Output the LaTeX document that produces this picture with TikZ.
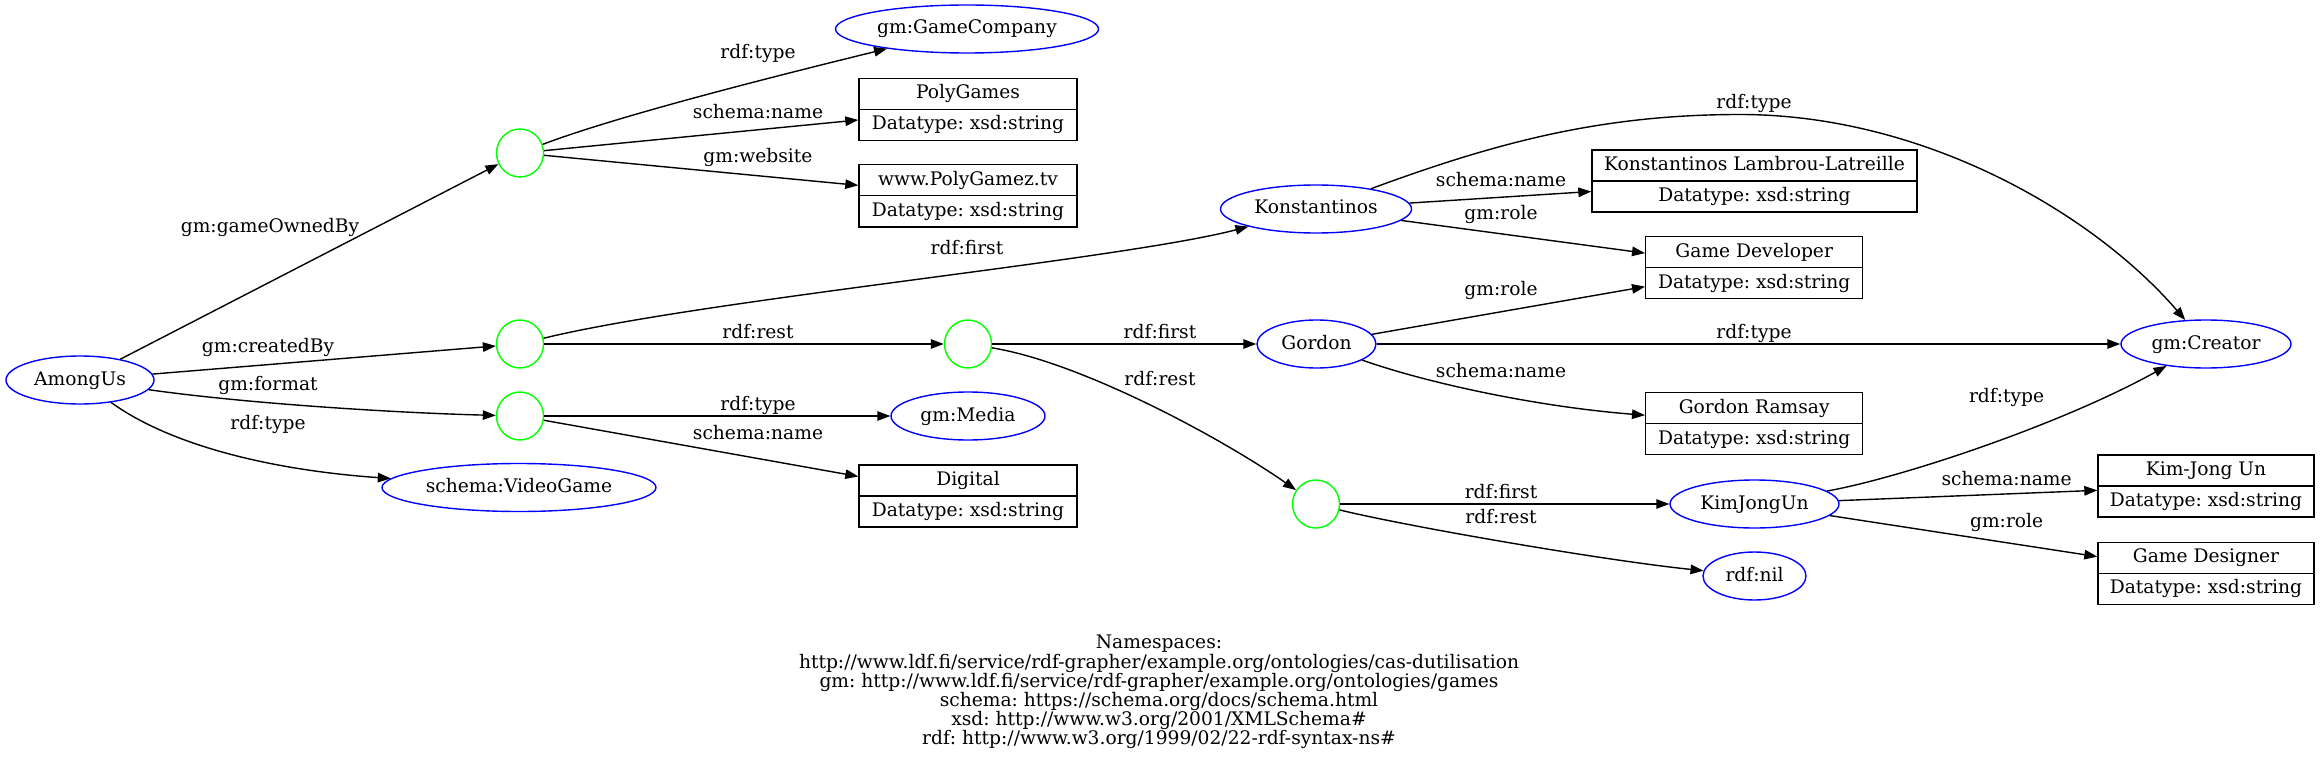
\documentclass[tikz,border=0pt]{standalone}
\usepackage{fontspec}
\setmainfont{DejaVu Serif}
\frenchspacing
\usetikzlibrary{shapes.geometric,arrows.meta}
\definecolor{gvblue}{RGB}{0,0,255}
\definecolor{gvgreen}{RGB}{0,255,0}
\tikzset{
  res/.style={ellipse, draw=gvblue, line width=1.4pt, inner sep=0pt, minimum height=48pt, text height=13pt, text depth=3pt},
  bnode/.style={ellipse, draw=gvgreen, line width=1.4pt, inner sep=0pt, minimum width=47pt, minimum height=48pt},
  recframe/.style={draw, line width=1.4pt, rectangle, minimum height=62pt, inner sep=0pt},
  recline/.style={line width=1.4pt},
  txt/.style={inner sep=0pt, text height=13pt, text depth=3pt},
  lbl/.style={inner sep=0pt, text height=13pt, text depth=3pt},
  nsline/.style={inner sep=0pt, anchor=base},
  arr/.style={line width=1.4pt, -{Triangle[length=13pt,width=9.5pt]}},
}
\newcommand{\recbox}[6]{%
  \node[recframe, minimum width=#4] (#1) at (#2,#3) {};
  \draw[recline] (#1.west) -- (#1.east);
  \node[txt] (#1-t) at (#2,#3-15.5) {#5};
  \node[txt] (#1-b) at (#2,#3+15.5) {#6};
}
\begin{document}
\begin{tikzpicture}[x=1pt,y=-1pt,font=\fontsize{18.67}{19.2}\selectfont\frenchspacing]
\useasboundingbox (0,0) rectangle (2320,762);
% resource nodes
\node[res, minimum width=148pt] (among) at (80,380) {AmongUs};
\node[bnode] (b1) at (520,153) {};
\node[bnode] (b2) at (520,344) {};
\node[bnode] (b3) at (520,416) {};
\node[res, minimum width=263pt] (gamecomp) at (967,29) {gm:GameCompany};
\node[res, minimum width=154pt] (media) at (968,416) {gm:Media};
\node[res, minimum width=274pt] (videogame) at (519,487.5) {schema:VideoGame};
\node[bnode] (b4) at (968,344) {};
\node[res, minimum width=191pt] (konst) at (1316,209) {Konstantinos};
\node[res, minimum width=119pt] (gordon) at (1316.5,344) {Gordon};
\node[res, minimum width=170pt] (creator) at (2206,344) {gm:Creator};
\node[bnode] (b5) at (1316,504) {};
\node[res, minimum width=169pt] (kim) at (1754.5,504) {KimJongUn};
\node[res, minimum width=103pt] (nil) at (1754.5,576) {rdf:nil};
\coordinate (apex) at (1740,114.5);
% literal records
\recbox{polyname}{968}{109.3}{218pt}{PolyGames}{Datatype: xsd:string}
\recbox{polyweb}{968}{195.8}{218pt}{www.PolyGamez.tv}{Datatype: xsd:string}
\recbox{digital}{968}{496}{218pt}{Digital}{Datatype: xsd:string}
\recbox{kll}{1754.5}{181.2}{325pt}{Konstantinos Lambrou-Latreille}{Datatype: xsd:string}
\recbox{gamedev}{1754.2}{267.7}{217pt}{Game Developer}{Datatype: xsd:string}
\recbox{ramsay}{1754.2}{423.7}{217pt}{Gordon Ramsay}{Datatype: xsd:string}
\recbox{kimname}{2206}{486}{216pt}{Kim-Jong Un}{Datatype: xsd:string}
\recbox{designer}{2206}{573.3}{216pt}{Game Designer}{Datatype: xsd:string}
% edges
\draw[arr] (among) -- (b1);
\draw[arr] (among) -- (b2);
\draw[arr] (among) .. controls (250,404) and (400,413) .. (b3);
\draw[arr] (among) .. controls (170,445) and (270,470) .. (videogame);
\draw[arr] (b1) .. controls (620,115) and (780,75) .. (gamecomp);
\draw[arr] (b1) -- (polyname);
\draw[arr] (b1) -- (polyweb);
\draw[arr] (b2) .. controls (700,300) and (1120,260) .. (konst);
\draw[arr] (b2) -- (b4);
\draw[arr] (b3) -- (media);
\draw[arr] (b3) -- (digital);
\draw[arr] (b4) -- (gordon);
\draw[arr] (b4) .. controls (1080,362) and (1220,437) .. (b5);
\draw[arr] (konst) .. controls (1495,143) and (1600,114.5) .. (apex)
  .. controls (1920,114.5) and (2090,210) .. (creator);
\draw[arr] (konst) -- (kll);
\draw[arr] (konst) -- (gamedev);
\draw[arr] (gordon) -- (gamedev);
\draw[arr] (gordon) -- (creator);
\draw[arr] (gordon) .. controls (1430,384) and (1540,407) .. (ramsay);
\draw[arr] (b5) -- (kim);
\draw[arr] (b5) .. controls (1400,525) and (1600,560) .. (nil);
\draw[arr] (kim) .. controls (1900,478) and (2060,425) .. (creator);
\draw[arr] (kim) -- (kimname);
\draw[arr] (kim) -- (designer);
% edge labels
\node[lbl] (l1) at (270,228) {gm:gameOwnedBy};
\node[lbl] (l2) at (268,347) {gm:createdBy};
\node[lbl] (l3) at (268,385.5) {gm:format};
\node[lbl] (l4) at (268,424.5) {rdf:type};
\node[lbl] (l5) at (758,54) {rdf:type};
\node[lbl] (l6) at (758,114) {schema:name};
\node[lbl] (l7) at (758,158) {gm:website};
\node[lbl] (l8) at (967,249) {rdf:first};
\node[lbl] (l9) at (758,333) {rdf:rest};
\node[lbl] (l10) at (758,405) {rdf:type};
\node[lbl] (l11) at (758,434.5) {schema:name};
\node[lbl] (l12) at (1754,103.5) {rdf:type};
\node[lbl] (l13) at (1501,182) {schema:name};
\node[lbl] (l14) at (1501,214) {gm:role};
\node[lbl] (l15) at (1501,290) {gm:role};
\node[lbl] (l16) at (1160,333) {rdf:first};
\node[lbl] (l17) at (1754,333) {rdf:type};
\node[lbl] (l18) at (1501,372.7) {schema:name};
\node[lbl] (l19) at (1160,380) {rdf:rest};
\node[lbl] (l20) at (2006.6,397) {rdf:type};
\node[lbl] (l21) at (1501,493) {rdf:first};
\node[lbl] (l22) at (1501,518) {rdf:rest};
\node[lbl] (l23) at (2006.6,480) {schema:name};
\node[lbl] (l24) at (2006.6,522.5) {gm:role};
% namespaces
\node[nsline] (ns1) at (1159,648.7) {Namespaces:};
\node[nsline] (ns2) at (1159,668) {http://www.ldf.fi/service/rdf-grapher/example.org/ontologies/cas-dutilisation};
\node[nsline] (ns3) at (1159,687.3) {gm: http://www.ldf.fi/service/rdf-grapher/example.org/ontologies/games};
\node[nsline] (ns4) at (1159,706.3) {schema: https://schema.org/docs/schema.html};
\node[nsline] (ns5) at (1159,725.3) {xsd: http://www.w3.org/2001/XMLSchema\#};
\node[nsline] (ns6) at (1159,744.7) {rdf: http://www.w3.org/1999/02/22-rdf-syntax-ns\#};
\end{tikzpicture}
\end{document}
